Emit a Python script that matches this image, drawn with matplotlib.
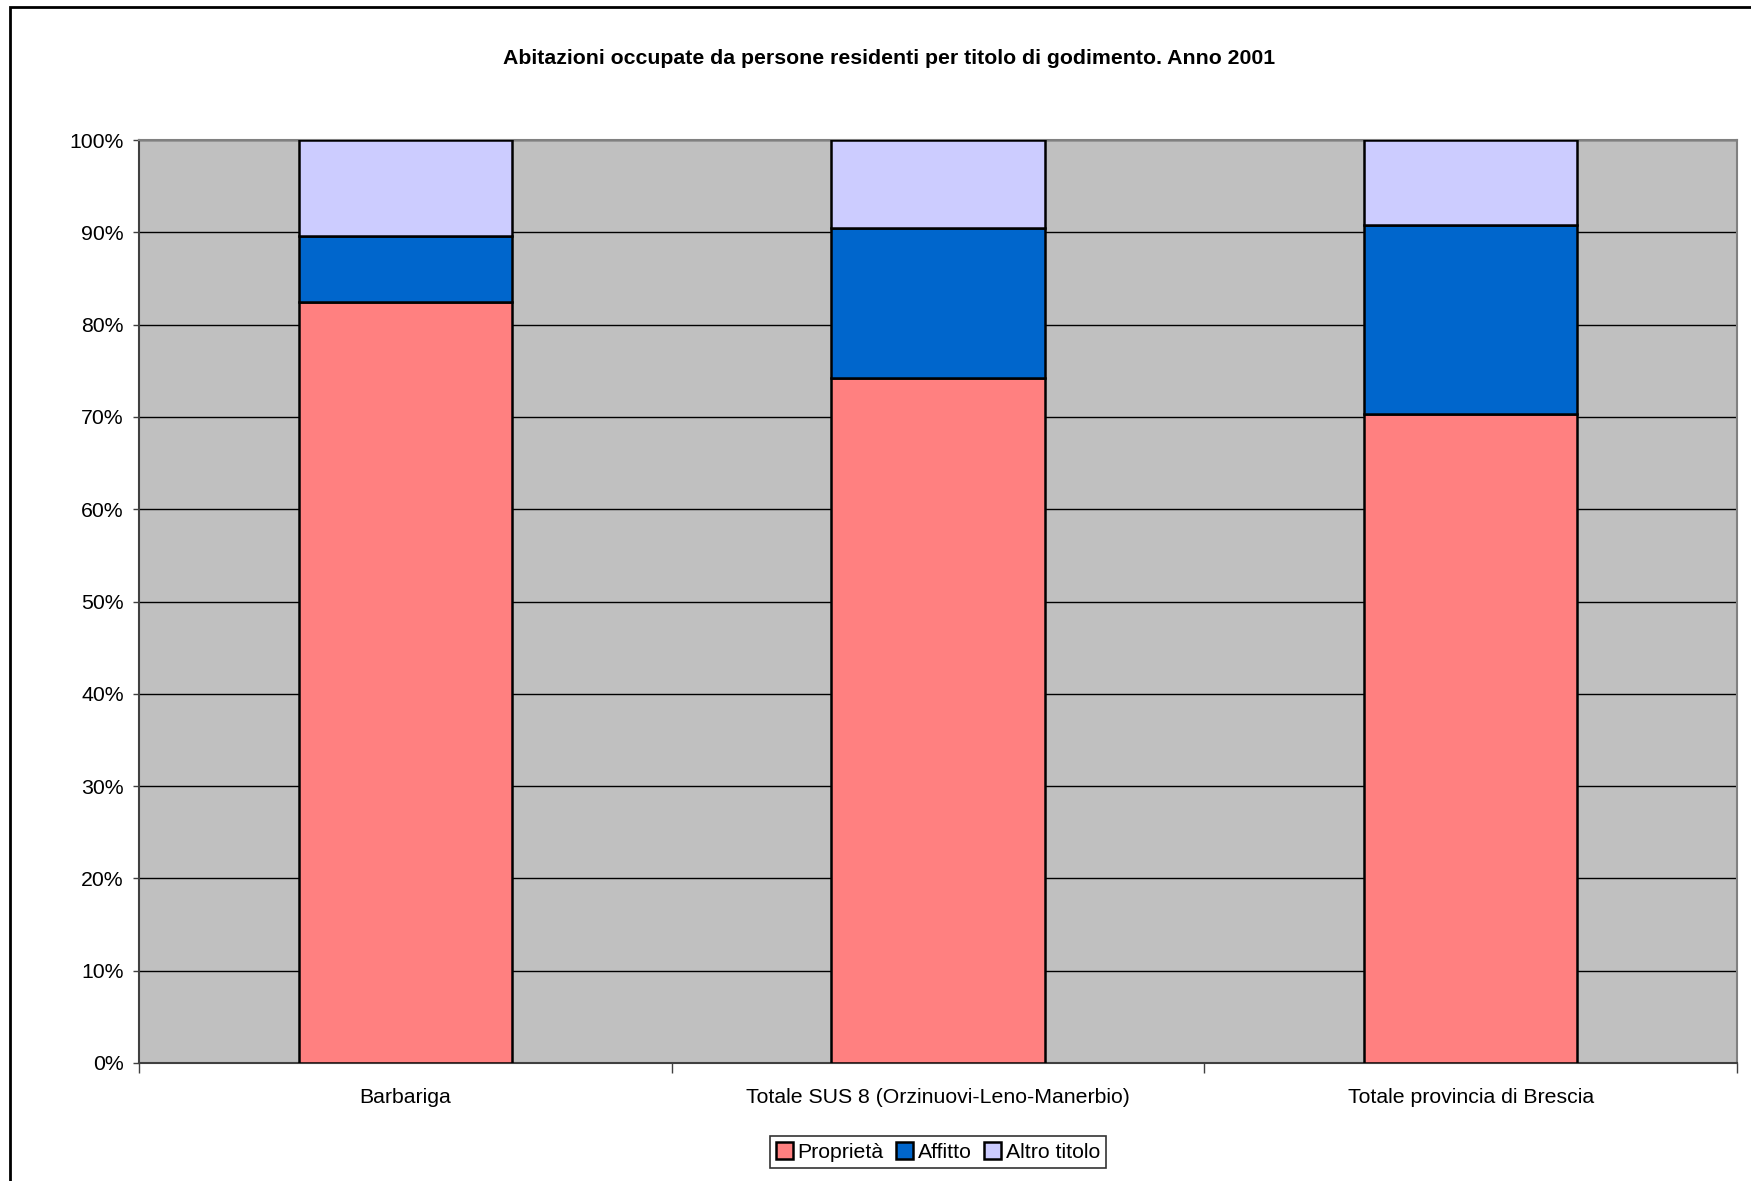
import matplotlib
matplotlib.use("Agg")
import matplotlib.pyplot as plt
import numpy as np
from matplotlib.patches import Rectangle

plt.rcParams['font.family'] = ['Liberation Sans', 'DejaVu Sans']

categories = ["Barbariga", "Totale SUS 8 (Orzinuovi-Leno-Manerbio)", "Totale provincia di Brescia"]
proprieta = [82.5, 74.2, 70.3]
affitto = [7.1, 16.3, 20.5]
altro = [10.4, 9.5, 9.2]
series_names = ["Proprietà", "Affitto", "Altro titolo"]
colors = ["#FF8080", "#0066CC", "#CCCCFF"]

fs = 15.3

fig = plt.figure(figsize=(17.51, 11.81), dpi=100)
ax = fig.add_axes([139 / 1751, 1 - 1063 / 1181, (1737 - 139) / 1751, (1063 - 140) / 1181])
ax.set_facecolor("#C0C0C0")

x = np.arange(len(categories))
bottom = np.zeros(len(categories))
for vals, name, col in zip([proprieta, affitto, altro], series_names, colors):
    ax.bar(x, vals, width=0.4, bottom=bottom, color=col, edgecolor="black",
           linewidth=1.8, label=name, zorder=3)
    bottom += np.array(vals)

ax.set_xlim(-0.5, len(categories) - 0.5)
ax.set_ylim(0, 100)
ax.set_yticks(np.arange(0, 101, 10))
ax.set_yticklabels([f"{v}%" for v in range(0, 101, 10)], fontsize=fs)
ax.yaxis.grid(True, color="black", linewidth=1.0, zorder=1)
ax.set_axisbelow(True)

ax.set_xticks(x)
ax.set_xticklabels(categories, fontsize=fs)
ax.tick_params(axis="x", which="major", length=0, pad=18)
ax.set_xticks(np.arange(-0.5, len(categories)), minor=True)
ax.tick_params(axis="x", which="minor", length=7, width=1, color="#404040")
ax.tick_params(axis="y", length=4, width=1, pad=7, color="#404040")

ax.spines["left"].set_color("#404040")
ax.spines["bottom"].set_color("#404040")
ax.spines["top"].set_color("#808080")
ax.spines["right"].set_color("#808080")
for s in ax.spines.values():
    s.set_linewidth(1.5)

fig.text(889 / 1751, 1 - 59 / 1181,
         "Abitazioni occupate da persone residenti per titolo di godimento. Anno 2001",
         ha="center", va="center", fontsize=fs, fontweight="bold")

leg = fig.legend(loc="center", bbox_to_anchor=(938 / 1751, 1 - 1152 / 1181), ncol=3,
                 fontsize=fs, frameon=True, fancybox=False, handlelength=0.8,
                 handleheight=0.8, handletextpad=0.2, columnspacing=0.6,
                 borderpad=0.3, edgecolor="black")
leg.get_frame().set_linewidth(1.2)

fig.patches.append(Rectangle((10 / 1751, -0.1), 1.2, 1 - 7 / 1181 + 0.1,
                             transform=fig.transFigure, fill=False,
                             edgecolor="black", linewidth=2))

fig.savefig("out.png", dpi=100, facecolor="white")
